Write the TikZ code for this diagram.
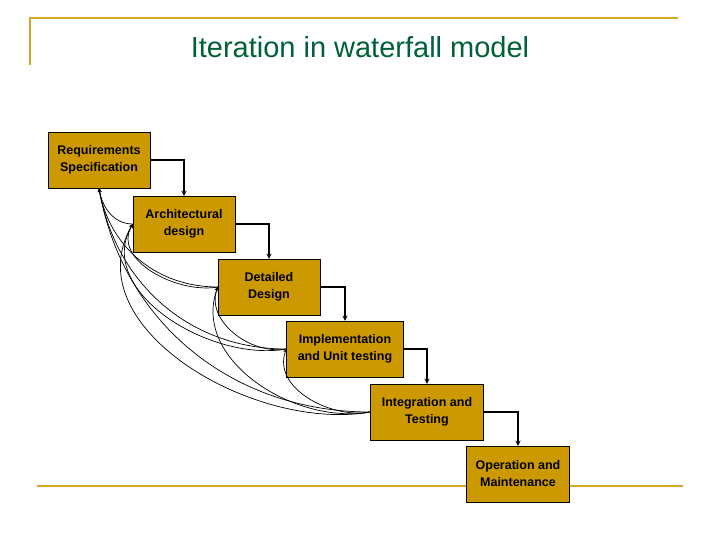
\documentclass[tikz,border=0pt]{standalone}
\usepackage{fontspec}
\setmainfont{Liberation Sans}
\begin{document}
\begin{tikzpicture}[x=1pt,y=-1pt,
    phase/.style={draw, fill=phasegold, minimum width=102pt, minimum height=56pt, align=center, font=\fontsize{12.5}{17}\selectfont\bfseries},
    flow/.style={->, >=stealth, line width=1.3pt},
    back/.style={->, >=stealth, line width=0.7pt}]
    \definecolor{phasegold}{HTML}{CC9900}
    \definecolor{titlegreen}{HTML}{00603A}
    \useasboundingbox (0,0) rectangle (720,540);
    \draw[color=phasegold!85!white, line width=1.3pt] (30,65) -- (30,18) -- (678,18);
    \draw[color=phasegold!85!white, line width=1.3pt] (37,486) -- (683,486);
    \node[text=titlegreen, font=\fontsize{29}{34}\selectfont] (title) at (360,47) {Iteration in waterfall model};

    \node[phase] (req) at (99,160) {Requirements\\Specification};
    \node[phase] (arch) at (184,224) {Architectural\\design};
    \node[phase] (det) at (269,287) {Detailed\\Design};
    \node[phase, minimum width=117pt] (imp) at (345,349) {Implementation\\and Unit testing};
    \node[phase, minimum width=113pt] (int) at (427,412) {Integration and\\Testing};
    \node[phase, minimum width=103pt] (ops) at (518,474) {Operation and\\Maintenance};

    \draw[flow] (req.east) -| (arch.north);
    \draw[flow] (arch.east) -| (det.north);
    \draw[flow] (det.east) -| (imp.north);
    \draw[flow] (imp.east) -| (int.north);
    \draw[flow] (int.east) -| (ops.north);

    % iterations back to earlier phases
    \foreach \src in {arch,det,imp,int}
        \draw[back] (\src.west) to[out=180,in=-80] (req.south);
    \foreach \src in {det,imp,int}
        \draw[back] (\src.west) to[out=190,in=-120] (arch.west);
    \foreach \src in {imp,int}
        \draw[back] (\src.west) to[out=190,in=-110] (det.west);
    \draw[back] (int.west) to[out=190,in=-110] (imp.west);
\end{tikzpicture}
\end{document}
